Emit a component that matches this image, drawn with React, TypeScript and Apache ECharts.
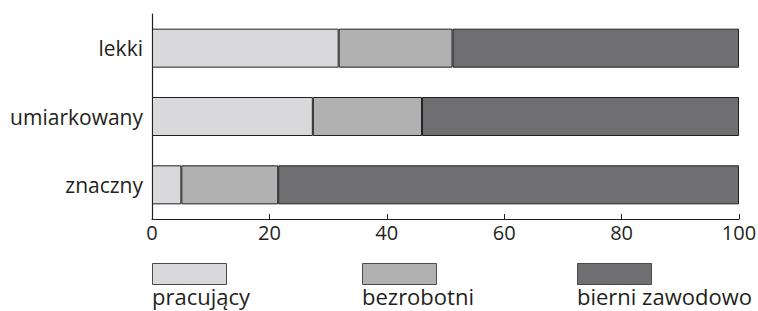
import React, { useEffect, useRef } from "react";
import * as echarts from "echarts";

const categories = ["znaczny", "umiarkowany", "lekki"];
const seriesNames = ["pracujący", "bezrobotni", "bierni zawodowo"];
const pracujacy = [5.0, 27.4, 31.8];
const bezrobotni = [16.5, 18.6, 19.4];
const bierni = [78.5, 54.0, 48.8];
const colors = ["#d9d9db", "#b1b1b2", "#6f6f71"];

const FONT = "'Open Sans', sans-serif";
const FS = 21;
const LFS = 22;

export default function App() {
  const ref = useRef<HTMLDivElement>(null);
  useEffect(() => {
    if (!ref.current) return;
    const chart = echarts.init(ref.current, undefined, { renderer: "svg" });
    const values = [pracujacy, bezrobotni, bierni];
    const legendX = [152, 362, 577];
    chart.setOption({
      animation: false,
      textStyle: { fontFamily: FONT },
      grid: { left: 152, right: 19, top: 14, bottom: 92, outerBoundsMode: "none" },
      xAxis: {
        type: "value",
        min: 0,
        max: 100,
        interval: 20,
        splitLine: { show: false },
        axisLine: { show: true, lineStyle: { color: "#231f20", width: 1.2 } },
        axisTick: { show: true, inside: true, length: 5, lineStyle: { color: "#231f20" } },
        axisLabel: { color: "#231f20", fontSize: 20, fontFamily: FONT, margin: 3 },
      },
      yAxis: {
        type: "category",
        data: categories,
        axisLine: { show: true, lineStyle: { color: "#231f20", width: 1.2 } },
        axisTick: { show: false },
        axisLabel: { color: "#231f20", fontSize: FS, fontFamily: FONT, margin: 9 },
      },
      legend: seriesNames.map((n, i) => ({
        data: [n],
        left: legendX[i],
        top: 263,
        itemWidth: 74,
        itemHeight: 21,
        icon: "rect",
        formatter: () => "",
        selectedMode: false,
        padding: 0,
        itemStyle: { borderWidth: 1, borderColor: "#4a4a4c" },
      })),
      graphic: seriesNames.map((n, i) => ({
        type: "text",
        left: legendX[i],
        top: 285,
        style: {
          text: n,
          fontSize: LFS,
          fontFamily: FONT,
          fill: "#231f20",
        },
      })),
      series: seriesNames.map((n, i) => ({
        name: n,
        type: "bar",
        stack: "total",
        barWidth: 39,
        data: values[i],
        itemStyle: { color: colors[i], borderColor: "#231f20", borderWidth: 1 },
      })),
    });
    return () => chart.dispose();
  }, []);
  return (
    <div
      ref={ref}
      style={{ position: "absolute", left: 0, top: 0, width: 758, height: 311 }}
    />
  );
}
